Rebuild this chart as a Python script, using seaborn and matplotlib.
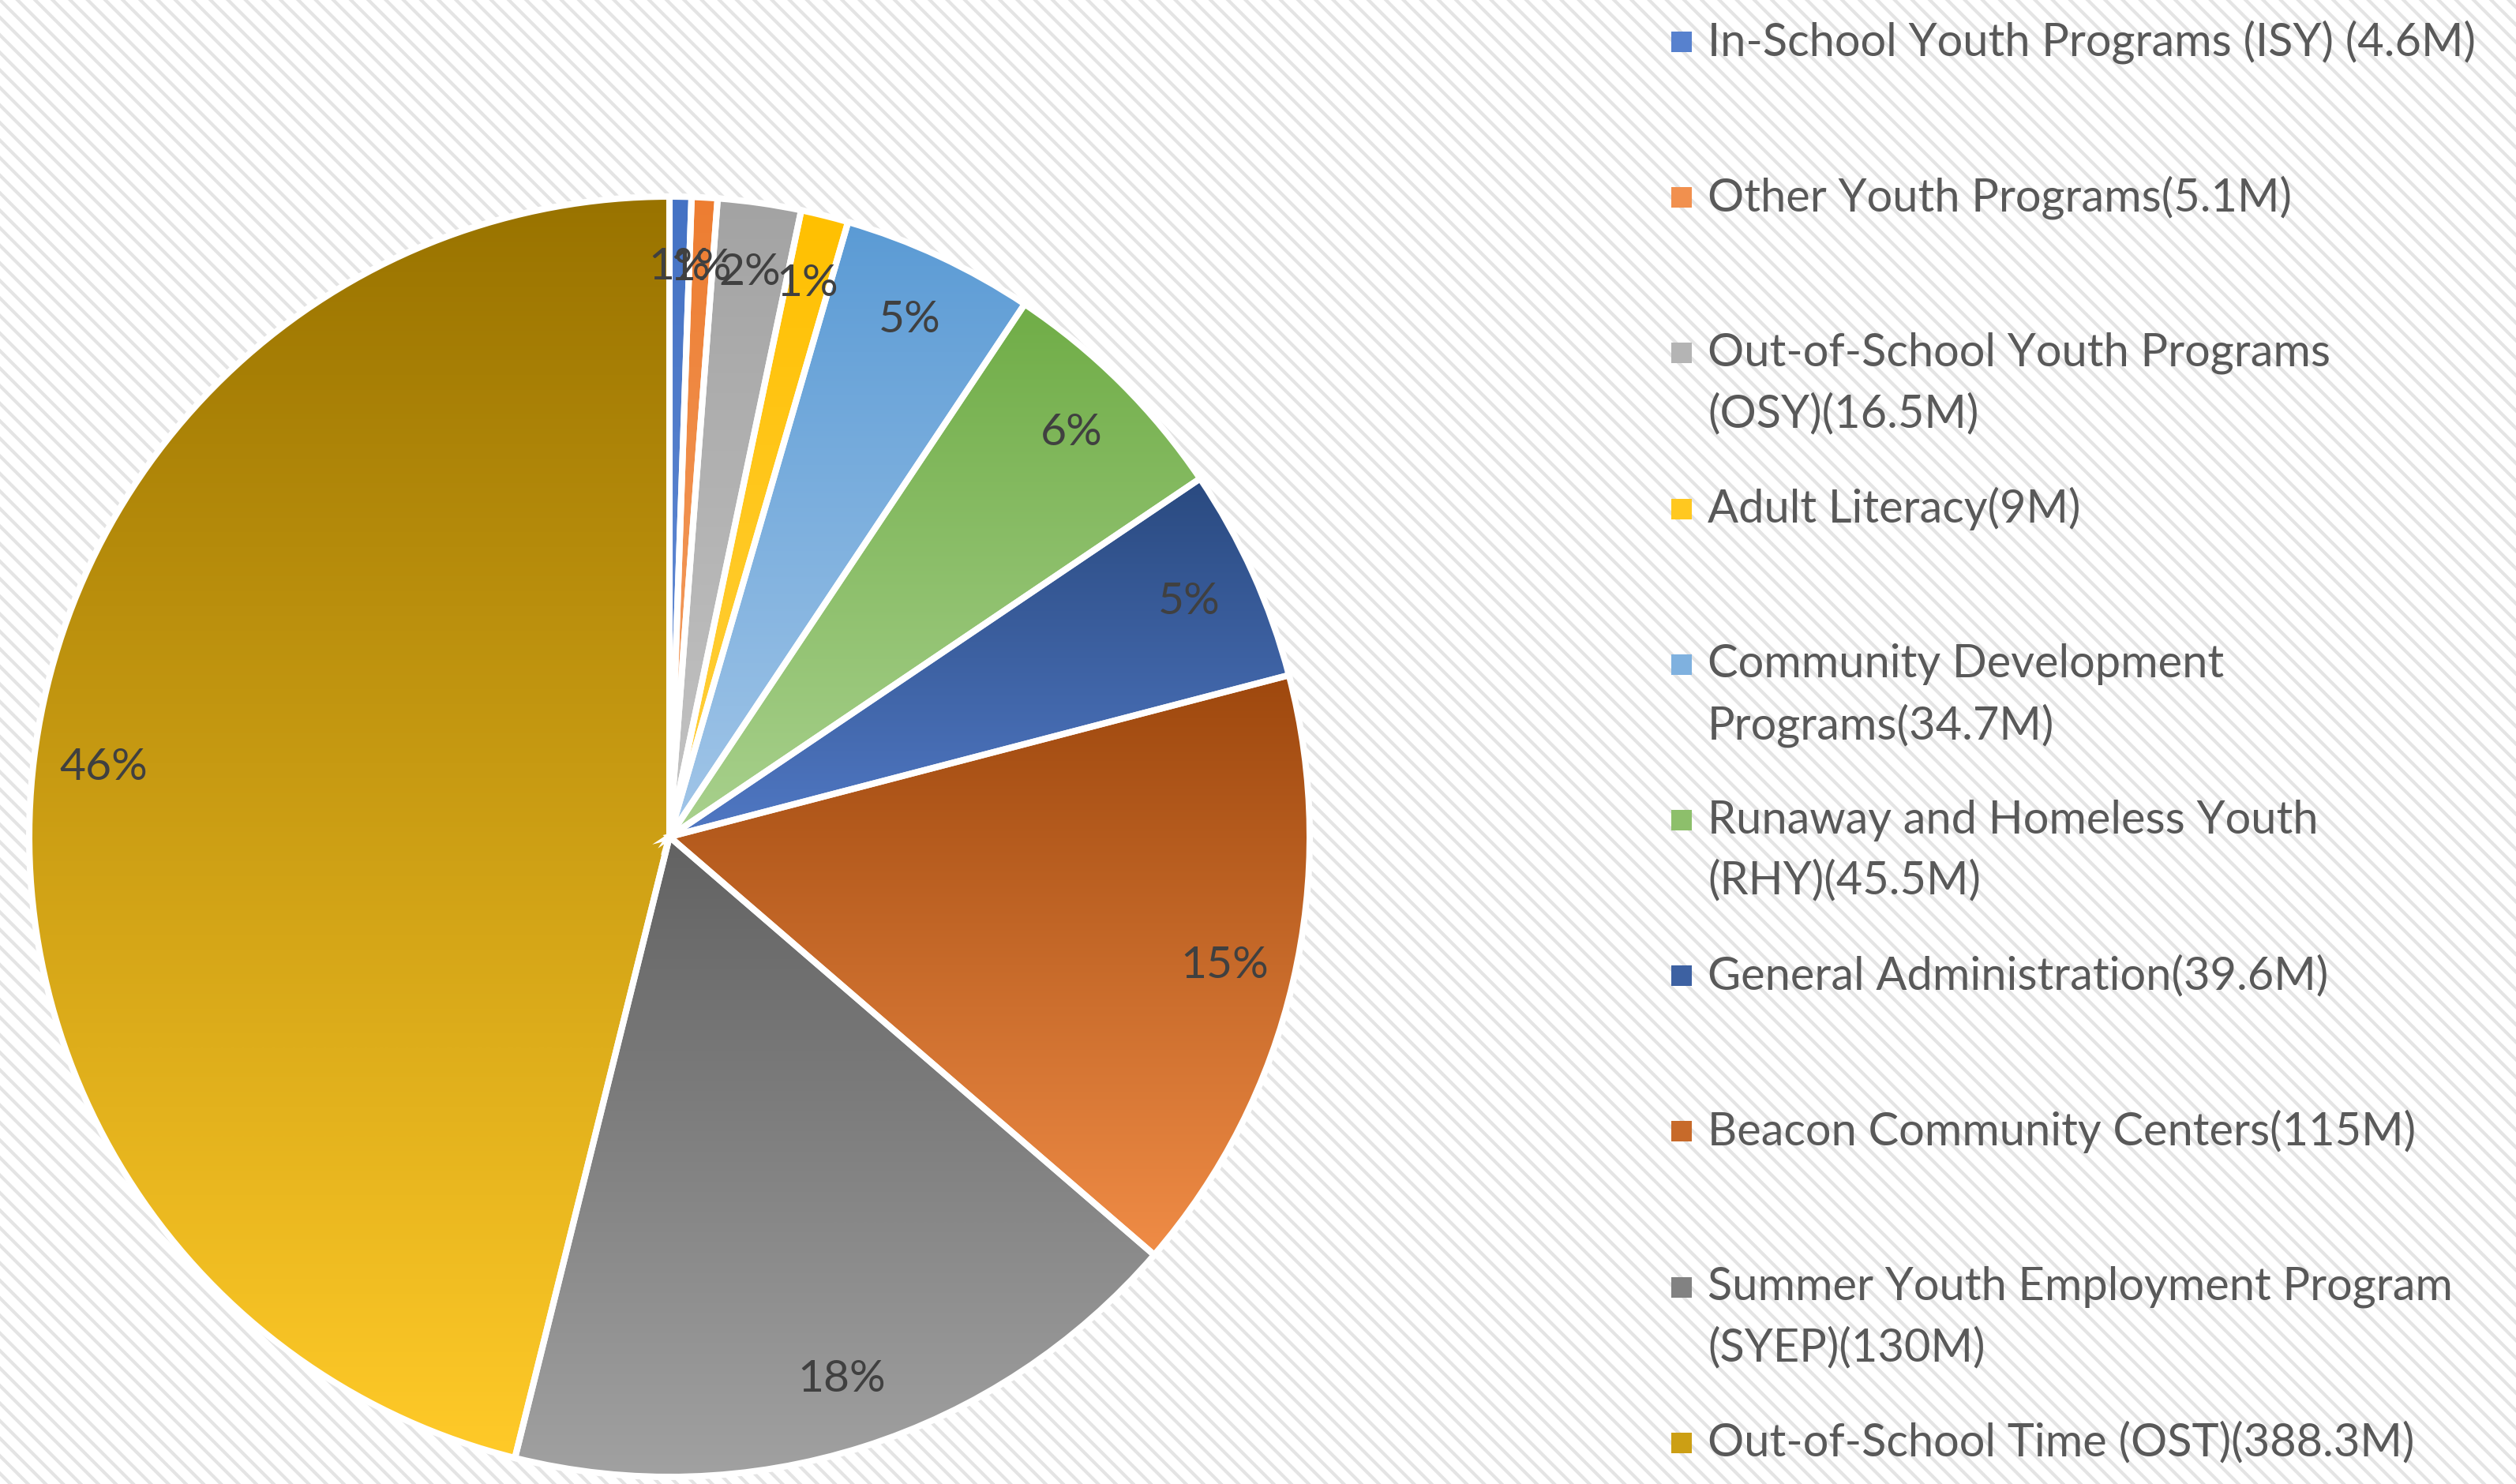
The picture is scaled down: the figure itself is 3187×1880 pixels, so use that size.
import numpy as np
import matplotlib
matplotlib.use("Agg")
import matplotlib.pyplot as plt
import seaborn as sns
from matplotlib.patches import Rectangle

# Dados (fatias em %, sentido horário a partir do topo)
programs = [
    "In-School Youth Programs (ISY) (4.6M)",
    "Other Youth Programs(5.1M)",
    "Out-of-School Youth Programs\n(OSY)(16.5M)",
    "Adult Literacy(9M)",
    "Community Development\nPrograms(34.7M)",
    "Runaway and Homeless Youth\n(RHY)(45.5M)",
    "General Administration(39.6M)",
    "Beacon Community Centers(115M)",
    "Summer Youth Employment Program\n(SYEP)(130M)",
    "Out-of-School Time (OST)(388.3M)",
]
shares = [0.55, 0.65, 2.1, 1.2, 4.86, 6.19, 5.39, 15.39, 17.55, 46.12]

top_colors = ["#4472C4", "#ED7D31", "#A3A3A3", "#FFC000", "#5B9BD5",
              "#70AD47", "#2A4A80", "#9E480E", "#626262", "#997300"]
bottom_colors = ["#6A90D8", "#F4A36A", "#C4C4C4", "#FFD040", "#A2C6E8",
                 "#A9D18E", "#5078C4", "#F08C46", "#A2A2A2", "#FFCA28"]

sns.set_theme(style="white")
plt.rcParams["hatch.linewidth"] = 1.5
plt.rcParams["hatch.color"] = "#E4E4E4"
font = ["Lato", "DejaVu Sans"]

W, H = 3187, 1880
fig = plt.figure(figsize=(W / 200, H / 200), dpi=200)

# fundo listrado em diagonal
bg = Rectangle((0, 0), 1, 1, transform=fig.transFigure, facecolor="white",
               edgecolor="#E4E4E4", hatch="\\\\\\", linewidth=0, zorder=-10)
fig.add_artist(bg)

cx, cy, r = 848, 1060, 811
ax = fig.add_axes([(cx - r) / W, (H - cy - r) / H, 2 * r / W, 2 * r / H])
ax.set_facecolor("none")

wedges, texts, autotexts = ax.pie(
    shares, startangle=90, counterclock=False, radius=1,
    autopct="%.0f%%", pctdistance=0.89,
    wedgeprops=dict(edgecolor="white", linewidth=2.9),
    textprops=dict(color="#404040", fontsize=20.5, family=font),
)

# preenchimento em degradê vertical em cada fatia
grad = np.linspace(0, 1, 256).reshape(-1, 1)
for w, c_top, c_bot in zip(wedges, top_colors, bottom_colors):
    verts = w.get_path().vertices
    xmin, xmax = verts[:, 0].min(), verts[:, 0].max()
    ymin, ymax = verts[:, 1].min(), verts[:, 1].max()
    cmap = sns.blend_palette([c_bot, c_top], as_cmap=True)
    im = ax.imshow(grad, extent=[xmin, xmax, ymin, ymax], origin="lower",
                   cmap=cmap, aspect="auto", zorder=2, interpolation="bilinear")
    im.set_clip_path(w)
    w.set_facecolor("none")
    w.set_zorder(3)
for t in autotexts:
    t.set_zorder(5)

ax.set_xlim(-1, 1)
ax.set_ylim(-1, 1)
ax.axis("off")

# legenda manual (posições fixas como no original)
for i, lab in enumerate(programs):
    y0 = 53 + 197.2 * i
    mid = sns.blend_palette([top_colors[i], bottom_colors[i]], 3)[1]
    fig.add_artist(Rectangle(((2130 - 13) / W, 1 - (y0 + 13) / H), 26 / W, 26 / H,
                             transform=fig.transFigure, facecolor=mid,
                             edgecolor="none"))
    for k, line in enumerate(lab.split("\n")):
        fig.text(2163 / W, 1 - (y0 + 77 * k) / H, line, ha="left", va="center",
                 fontsize=20.8, color="#595959", family=font)

fig.savefig("out.png", dpi=200)
